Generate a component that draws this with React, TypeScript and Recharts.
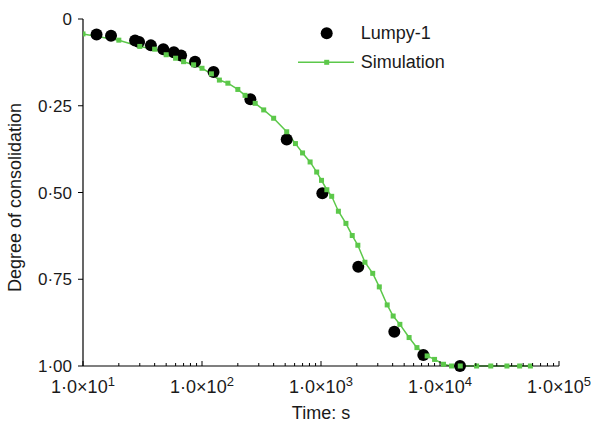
import { ComposedChart, Scatter, Line, XAxis, YAxis } from "recharts"

// Lumpy-1 measured points (time in s, degree of consolidation)
const measuredTime = [13, 17.2, 27.4, 29.6, 37.2, 47.3, 58, 66.7, 87.4, 125, 255, 515, 1026, 2057, 4130, 7244, 14720]
const measuredDegree = [0.045, 0.048, 0.062, 0.066, 0.076, 0.087, 0.096, 0.105, 0.123, 0.153, 0.231, 0.347, 0.502, 0.714, 0.901, 0.968, 1.0]

// simulation output
const simTime = [
  10, 20, 30, 40, 50, 60, 70, 85, 100, 120, 140, 165, 200, 230, 280, 330, 400, 515, 610, 700, 810, 920, 1010, 1120,
  1230, 1400, 1620, 1830, 2040, 2340, 2720, 3090, 3600, 4040, 4600, 5500, 6400, 7800, 9000, 10700, 12500, 14800,
  20300, 26700, 36500, 46700, 57500,
]
const simDegree = [
  0.043, 0.061, 0.079, 0.087, 0.103, 0.113, 0.123, 0.132, 0.142, 0.158, 0.176, 0.185, 0.203, 0.22, 0.243, 0.262,
  0.286, 0.325, 0.359, 0.386, 0.412, 0.441, 0.465, 0.492, 0.511, 0.554, 0.589, 0.624, 0.652, 0.701, 0.733, 0.772,
  0.824, 0.856, 0.88, 0.918, 0.947, 0.971, 0.981, 0.995, 1, 1, 1, 1, 1, 1, 1,
]

const xMajorTicks = [10, 100, 1000, 10000, 100000]
const xTickExponents = ["1", "2", "3", "4", "5"]
const yTicks = [0, 0.25, 0.5, 0.75, 1]
const yTickLabels = ["0", "0·25", "0·50", "0·75", "1·00"]

const measured = measuredTime.map((t, i) => ({ t, d: measuredDegree[i] }))
const simulation = simTime.map((t, i) => ({ t, d: simDegree[i] }))

// minor ticks 2..9 in each decade
const xAllTicks: number[] = []
xMajorTicks.forEach((m, i) => {
  xAllTicks.push(m)
  if (i < xMajorTicks.length - 1) for (let k = 2; k <= 9; k++) xAllTicks.push(m * k)
})

const GREEN = "#5cc84a"
const FONT = "'Liberation Sans', Arial, sans-serif"
const TEXT = "#1a1a1a"

function TimeTick(props: any) {
  const { x, y, payload } = props
  const idx = xMajorTicks.indexOf(payload.value)
  const major = idx >= 0
  return (
    <g>
      <line x1={x} x2={x} y1={y} y2={y - (major ? 5 : 3)} stroke="#000" strokeWidth={1} />
      {major && (
        <text x={x} y={y + 27} textAnchor="middle" fontSize={18} fill={TEXT} fontFamily={FONT}>
          1·0×10
          <tspan dy={-7} fontSize={13}>
            {xTickExponents[idx]}
          </tspan>
        </text>
      )}
    </g>
  )
}

function Dot(props: any) {
  return <circle cx={props.cx} cy={props.cy} r={6} fill="#000" />
}

function Square(props: any) {
  const { cx, cy } = props
  if (cx == null || cy == null) return null
  return <rect key={`${cx}-${cy}`} x={cx - 2.5} y={cy - 2.5} width={5} height={5} fill={GREEN} />
}

function YLabel(props: any) {
  const vb = props.viewBox || { x: 0, y: 19, height: 346 }
  const cx = 15
  const cy = vb.y + vb.height / 2 + 5
  return (
    <text
      x={cx}
      y={cy}
      transform={`rotate(-90 ${cx} ${cy})`}
      textAnchor="middle"
      dominantBaseline="central"
      fontSize={18}
      fill={TEXT}
      fontFamily={FONT}
    >
      Degree of consolidation
    </text>
  )
}

export default function App() {
  return (
    <div style={{ position: "absolute", left: 0, top: 0, width: 595, height: 423, background: "#fff", fontFamily: FONT }}>
      <ComposedChart width={595} height={423} margin={{ top: 19, right: 36, left: 0, bottom: 0 }}>
        <XAxis
          dataKey="t"
          type="number"
          scale="log"
          domain={[10, 100000]}
          allowDataOverflow
          ticks={xAllTicks}
          interval={0}
          tick={<TimeTick />}
          tickLine={false}
          tickSize={0}
          tickMargin={0}
          height={57}
          axisLine={{ stroke: "#000", strokeWidth: 1.2 }}
          label={{ value: "Time: s", position: "insideBottom", offset: 4, fontSize: 18, fill: TEXT, fontFamily: FONT }}
        />
        <YAxis
          dataKey="d"
          type="number"
          domain={[0, 1]}
          reversed
          ticks={yTicks}
          interval={0}
          width={83}
          tickSize={5}
          tickMargin={6}
          tickFormatter={(v: number) => yTickLabels[yTicks.indexOf(v)]}
          tick={{ fontSize: 17, fill: TEXT, fontFamily: FONT }}
          axisLine={{ stroke: "#000", strokeWidth: 1.2 }}
          tickLine={{ stroke: "#000" }}
          label={{ content: <YLabel /> }}
        />
        <Scatter data={measured} dataKey="d" shape={<Dot />} isAnimationActive={false} />
        <Line
          data={simulation}
          dataKey="d"
          type="linear"
          stroke={GREEN}
          strokeWidth={1.5}
          dot={<Square />}
          activeDot={false}
          isAnimationActive={false}
        />
      </ComposedChart>
      <svg width={200} height={70} style={{ position: "absolute", left: 290, top: 15 }}>
        <circle cx={36.7} cy={18.3} r={6} fill="#000" />
        <text x={70.7} y={18.3} dominantBaseline="central" fontSize={18} fill={TEXT} fontFamily={FONT}>
          Lumpy-1
        </text>
        <line x1={8} x2={64} y1={47.3} y2={47.3} stroke={GREEN} strokeWidth={1.5} />
        <rect x={34.2} y={44.8} width={5} height={5} fill={GREEN} />
        <text x={70.7} y={47.3} dominantBaseline="central" fontSize={18} fill={TEXT} fontFamily={FONT}>
          Simulation
        </text>
      </svg>
    </div>
  )
}
